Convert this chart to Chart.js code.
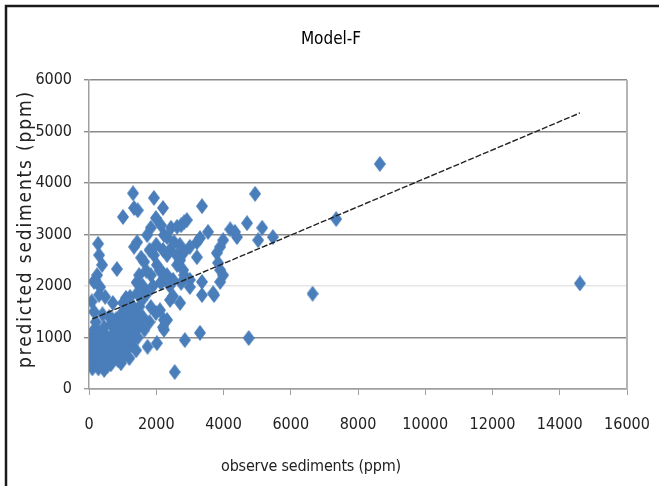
<!DOCTYPE html>
<html lang="en">
<head>
<meta charset="UTF-8">
<script src="https://cdn.jsdelivr.net/npm/chart.js@4/dist/chart.umd.min.js"></script>
<title>Model-F</title>
<style>
  html, body { margin: 0; padding: 0; background: #fff; }
  #wrap { width: 659px; height: 486px; position: relative; }
</style>
</head>
<body>
<div id="wrap"><canvas id="scatter"></canvas></div>
<script>
// observed vs predicted sediment concentration (ppm)
var observed = [
  100, 200, 280, 350, 450, 600, 700, 830, 950, 1100, 1250, 1400,
  100, 200, 350, 500, 650, 800, 950, 200, 400, 150, 600, 750,
  900, 1050, 1200, 1350, 1500, 450, 650, 850, 1050, 1250, 1450, 350,
  250, 550, 750, 900, 1150, 1300, 300, 150, 80, 50, 60, 30,
  1200, 950, 1130,
  100, 150, 250, 400, 500, 550, 700, 800, 1000, 1100, 1300, 1350,
  1450, 1500, 300, 450, 600, 700, 850, 1000, 1100, 1250, 250, 400,
  1000, 1400,
  1310, 1930, 2200, 1010, 1340, 1450, 4940, 3360, 4700, 5150, 5470, 5030,
  4340, 4200, 4400, 3540, 3990, 3900, 3800, 3840, 3210, 3300, 3990, 3900,
  3900, 3360, 3360, 3720, 3690, 3000, 3300, 4750, 2550, 2850, 1740, 2020,
  2230, 2230, 1100, 1430, 2140, 2740, 1840, 1990, 1730, 1580, 270, 300,
  390, 240, 830, 150, 1430, 1340, 1490, 1840, 1730, 1990, 2140, 2440,
  2740, 2830, 2230, 2530, 2830, 1930, 2320, 1640, 2020, 2620, 1840, 2320,
  2830, 1430, 2140, 3000, 3210, 2710, 2800, 3000, 2500, 2200, 2410, 2710,
  2110, 2320, 2200, 2910, 2620, 2320, 1220, 1010, 1430, 710, 480, 330,
  180, 1600, 1700, 1900, 2100, 2400, 2500, 2600, 2700, 1550, 1800, 2000,
  2200, 2400, 1600, 1800, 1500, 1650, 1400, 1200, 1000,
  14600, 8650, 7350, 6650
];
var predicted = [
  650, 480, 400, 560, 720, 810, 950, 1060, 1150, 1250, 1340, 1430,
  950, 1150, 950, 1050, 1250, 1350, 1450, 1300, 1450, 1150, 650, 750,
  850, 950, 1050, 1150, 1250, 370, 480, 570, 680, 850, 1000, 750,
  850, 900, 1100, 1250, 1400, 1550, 1830, 1500, 1700, 1000, 800, 600,
  600, 500, 820,
  400, 700, 600, 500, 600, 450, 550, 700, 800, 900, 950, 1300,
  1200, 1400, 1100, 1200, 1400, 1350, 1200, 1300, 1550, 1650, 1000, 850,
  600, 750,
  3800, 3710, 3515, 3340, 3515, 3470, 3790, 3550, 3220, 3130, 2950, 2890,
  3050, 3100, 2950, 3050, 2890, 2760, 2640, 2450, 2850, 2930, 2210, 2310,
  2080, 2080, 1825, 1825, 1860, 1980, 1090, 990, 330, 950, 820, 890,
  1150, 1340, 1770, 2060, 2060, 2060, 1590, 1475, 1860, 1730, 2820, 2600,
  2410, 2210, 2330, 2080, 2850, 2760, 2210, 3130, 2990, 3320, 3180, 3130,
  3180, 3240, 2990, 2850, 2660, 2600, 2600, 2470, 2410, 2410, 2210, 2210,
  2210, 2080, 2080, 2760, 2560, 2500, 2310, 2120, 2120, 2250, 1730, 1670,
  1530, 1340, 1200, 3280, 3150, 2950, 1790, 1670, 1860, 1670, 1790, 1980,
  2120, 2000, 2300, 2000, 2300, 2000, 1800, 2600, 2800, 2550, 2700, 2800,
  2700, 2700, 1400, 1300, 1600, 1150, 1300, 1200, 1100,
  2050, 4370, 3300, 1850
];

// linear trend line end points
var trendX = [100, 14600];
var trendY = [1360, 5360];

var xTicks = [0, 2000, 4000, 6000, 8000, 10000, 12000, 14000, 16000];
var yTicks = [0, 1000, 2000, 3000, 4000, 5000, 6000];

var titleText = 'Model-F';
var xTitle = 'observe sediments (ppm)';
var yTitle = 'predicted sediments (ppm)';

var FONT = "'Liberation Sans Narrow', 'DejaVu Sans Condensed', 'Arial Narrow', sans-serif";

function toPoints(xs, ys) {
  var pts = [];
  for (var i = 0; i < xs.length; i++) pts.push({ x: xs[i], y: ys[i] });
  return pts;
}

// tall diamond marker
function diamond(w, h, color) {
  var c = document.createElement('canvas');
  c.width = w; c.height = h;
  var g = c.getContext('2d');
  g.fillStyle = color;
  g.beginPath();
  g.moveTo(w / 2, 0);
  g.lineTo(w, h / 2);
  g.lineTo(w / 2, h);
  g.lineTo(0, h / 2);
  g.closePath();
  g.fill();
  return c;
}

function spacedText(ctx, text, width) {
  ctx.letterSpacing = '0px';
  var w = ctx.measureText(text).width;
  var sp = (width - w) / (text.length - 1);
  ctx.letterSpacing = sp + 'px';
}

var decor = {
  id: 'decor',
  afterDraw: function (chart) {
    var ctx = chart.ctx;
    var a = chart.chartArea;
    ctx.save();
    // plot box right edge
    ctx.strokeStyle = '#b5b5b5';
    ctx.lineWidth = 2;
    ctx.beginPath();
    ctx.moveTo(a.right, a.top);
    ctx.lineTo(a.right, a.bottom);
    ctx.stroke();

    // outer frame
    ctx.strokeStyle = '#1a1a1a';
    ctx.lineWidth = 2.5;
    ctx.beginPath();
    ctx.moveTo(6, chart.height);
    ctx.lineTo(6, 6);
    ctx.lineTo(chart.width, 6);
    ctx.stroke();

    ctx.fillStyle = '#000';
    ctx.textAlign = 'center';
    ctx.textBaseline = 'middle';
    ctx.font = '17px ' + FONT;
    ctx.fillText(titleText, 331, 40);

    ctx.fillStyle = '#222';
    ctx.font = '16px ' + FONT;
    spacedText(ctx, xTitle, 180);
    ctx.fillText(xTitle, 311, 467);

    ctx.translate(26, 229);
    ctx.rotate(-Math.PI / 2);
    ctx.font = '19px ' + FONT;
    spacedText(ctx, yTitle, 276);
    ctx.fillText(yTitle, 0, 0);
    ctx.restore();
  }
};

new Chart(document.getElementById('scatter'), {
  type: 'scatter',
  data: {
    datasets: [{
      label: 'trend',
      data: toPoints(trendX, trendY),
      showLine: true,
      borderColor: '#222',
      borderWidth: 1.4,
      borderDash: [6, 2],
      pointRadius: 0,
      order: 0
    }, {
      label: 'sediments',
      data: toPoints(observed, predicted),
      pointStyle: diamond(12, 16, '#4a7ebb'),
      pointRadius: 6,
      order: 1
    }]
  },
  options: {
    responsive: true,
    maintainAspectRatio: false,
    animation: false,
    devicePixelRatio: 1,
    layout: { padding: { top: 80, right: 32, left: 0, bottom: 0 } },
    plugins: {
      legend: { display: false },
      tooltip: { enabled: false }
    },
    scales: {
      x: {
        type: 'linear',
        min: xTicks[0],
        max: xTicks[xTicks.length - 1],
        afterBuildTicks: function (axis) { axis.ticks = xTicks.map(function (v) { return { value: v }; }); },
        afterFit: function (axis) { axis.height = 97; axis.paddingLeft = 0; axis.paddingRight = 0; },
        ticks: {
          color: '#222', font: { family: FONT, size: 16 }, padding: 20, maxRotation: 0, autoSkip: false,
          callback: function (v) { return String(v); }
        },
        grid: { drawOnChartArea: false, tickLength: 6, color: '#a0a0a0' },
        border: { color: '#a0a0a0', width: 1.5 }
      },
      y: {
        min: yTicks[0],
        max: yTicks[yTicks.length - 1],
        afterBuildTicks: function (axis) { axis.ticks = yTicks.map(function (v) { return { value: v }; }); },
        afterFit: function (axis) { axis.width = 89; axis.paddingTop = 0; axis.paddingBottom = 0; },
        ticks: {
          color: '#222', font: { family: FONT, size: 16 }, padding: 12,
          callback: function (v) { return String(v); }
        },
        grid: {
          tickLength: 5,
          lineWidth: 1.4,
          color: function (c) {
            if (c.tick && c.tick.value === 2000) return '#e6e6e6';
            if (c.tick && c.tick.value === 0) return '#a0a0a0';
            return '#8a8a8a';
          }
        },
        border: { color: '#a0a0a0', width: 1.5 }
      }
    }
  },
  plugins: [decor]
});
</script>
</body>
</html>
